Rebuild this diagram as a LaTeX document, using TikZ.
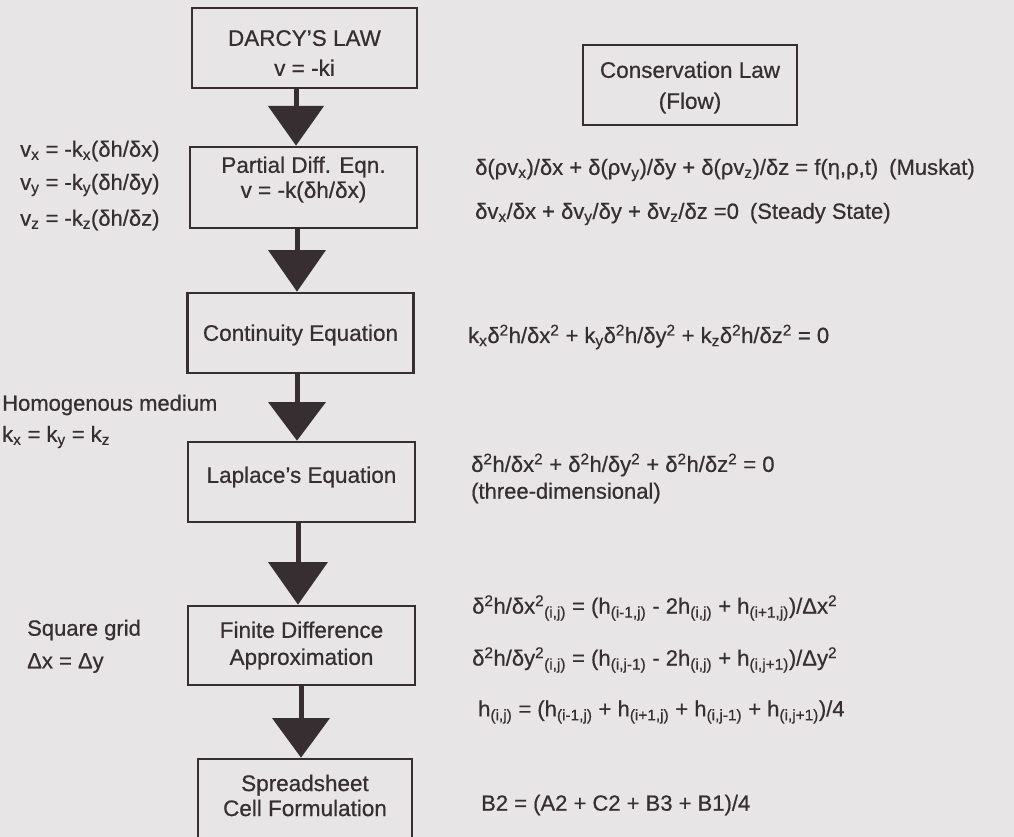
\documentclass[tikz,border=0pt]{standalone}
\usepackage{fontspec}
\setmainfont{Liberation Sans}[FakeBold=0.6]
\definecolor{ink}{HTML}{362E30}
\definecolor{paper}{HTML}{E8E5E6}
\newcommand{\lo}[1]{\textsubscript{#1}}
\newcommand{\hi}[1]{\textsuperscript{#1}}
\begin{document}
\begin{tikzpicture}[x=1pt,y=-1pt,
  box/.style={draw=ink, line width=2.8pt, inner sep=0pt},
  lab/.style={text=ink, align=center, inner sep=0pt, font=\fontsize{22.5}{27}\selectfont},
  eq/.style={text=ink, anchor=west, inner sep=0pt, font=\fontsize{22}{26}\selectfont},
  stem/.style={draw=ink, line width=5pt},
  tri/.style={fill=ink}]
\fill[paper] (0,0) rectangle (1014,837);
\clip (0,0) rectangle (1014,837);

% boxes
\node[box, minimum width=225pt, minimum height=80pt] (b1) at (304.5,48) {};
\node[box, minimum width=214pt, minimum height=80pt] (cons) at (690,85) {};
\node[box, minimum width=227pt, minimum height=81pt] (b2) at (303.5,187.5) {};
\node[box, minimum width=226pt, minimum height=80pt] (b3) at (300.5,333) {};
\node[box, minimum width=227pt, minimum height=80pt] (b4) at (301.5,482) {};
\node[box, minimum width=227pt, minimum height=79pt] (b5) at (301.5,645.5) {};
\node[box, minimum width=214pt, minimum height=82pt] (b6) at (305,800) {};

% box labels
\node[lab, font=\fontsize{22.5}{30}\selectfont] (t1) at (304.5,53) {DARCY'S LAW\\v = -ki};
\node[lab, font=\fontsize{22.5}{31}\selectfont] (tc) at (690,87.5) {Conservation Law\\(Flow)};
\node[lab, font=\fontsize{22.5}{25}\selectfont] (t2) at (303.5,179.5) {Partial Diff. Eqn.\\v = -k(δh/δx)};
\node[lab] (t3) at (300.5,335) {Continuity Equation};
\node[lab] (t4) at (301.5,477) {Laplace's Equation};
\node[lab, font=\fontsize{22.5}{27}\selectfont] (t5) at (301.5,645.5) {Finite Difference\\Approximation};
\node[lab, font=\fontsize{22.5}{25}\selectfont] (t6) at (305,795.5) {Spreadsheet\\Cell Formulation};

% arrows
\coordinate (a1) at (296,106);
\coordinate (a2) at (297,250);
\coordinate (a3) at (297,402);
\coordinate (a4) at (298,562);
\coordinate (a5) at (301,718);
\draw[stem] (b1.south -| a1) -- (a1);
\fill[tri] ([xshift=-28pt]a1) -- ([xshift=28pt]a1) -- (b2.north -| a1) -- cycle;
\draw[stem] (b2.south -| a2) -- (a2);
\fill[tri] ([xshift=-29pt]a2) -- ([xshift=29pt]a2) -- (b3.north -| a2) -- cycle;
\draw[stem] (b3.south -| a3) -- (a3);
\fill[tri] ([xshift=-29pt]a3) -- ([xshift=29pt]a3) -- (b4.north -| a3) -- cycle;
\draw[stem] (b4.south -| a4) -- (a4);
\fill[tri] ([xshift=-30pt]a4) -- ([xshift=30pt]a4) -- (b5.north -| a4) -- cycle;
\draw[stem] (b5.south -| a5) -- (a5);
\fill[tri] ([xshift=-29pt]a5) -- ([xshift=29pt]a5) -- (b6.north -| a5) -- cycle;

% left side notes
\node[eq] (vx) at (20,151) {v\lo{x} = -k\lo{x}(δh/δx)};
\node[eq] (vy) at (20,185) {v\lo{y} = -k\lo{y}(δh/δy)};
\node[eq] (vz) at (20,220) {v\lo{z} = -k\lo{z}(δh/δz)};
\node[eq] (hom) at (2,405) {Homogenous medium};
\node[eq] (kk) at (2,437) {k\lo{x} = k\lo{y} = k\lo{z}};
\node[eq] (sq) at (27,630) {Square grid};
\node[eq] (dd) at (27,663) {Δx = Δy};

% right side equations
\node[eq] (e1) at (475,170) {δ(ρv\lo{x})/δx + δ(ρv\lo{y})/δy + δ(ρv\lo{z})/δz = f(η,ρ,t)\enspace(Muskat)};
\node[eq] (e2) at (475,214) {δv\lo{x}/δx + δv\lo{y}/δy + δv\lo{z}/δz =0\enspace(Steady State)};
\node[eq] (e3) at (468,337) {k\lo{x}δ\hi{2}h/δx\hi{2} + k\lo{y}δ\hi{2}h/δy\hi{2} + k\lo{z}δ\hi{2}h/δz\hi{2} = 0};
\node[eq] (e4) at (471,465) {δ\hi{2}h/δx\hi{2} + δ\hi{2}h/δy\hi{2} + δ\hi{2}h/δz\hi{2} = 0};
\node[eq] (e4b) at (471,493) {(three-dimensional)};
\node[eq] (e5) at (472,608) {δ\hi{2}h/δx\hi{2}\lo{(i,j)} = (h\lo{(i-1,j)} - 2h\lo{(i,j)} + h\lo{(i+1,j)})/Δx\hi{2}};
\node[eq] (e6) at (472,660) {δ\hi{2}h/δy\hi{2}\lo{(i,j)} = (h\lo{(i,j-1)} - 2h\lo{(i,j)} + h\lo{(i,j+1)})/Δy\hi{2}};
\node[eq] (e7) at (478,712) {h\lo{(i,j)} = (h\lo{(i-1,j)} + h\lo{(i+1,j)} + h\lo{(i,j-1)} + h\lo{(i,j+1)})/4};
\node[eq] (e8) at (481,805) {B2 = (A2 + C2 + B3 + B1)/4};
\end{tikzpicture}
\end{document}
